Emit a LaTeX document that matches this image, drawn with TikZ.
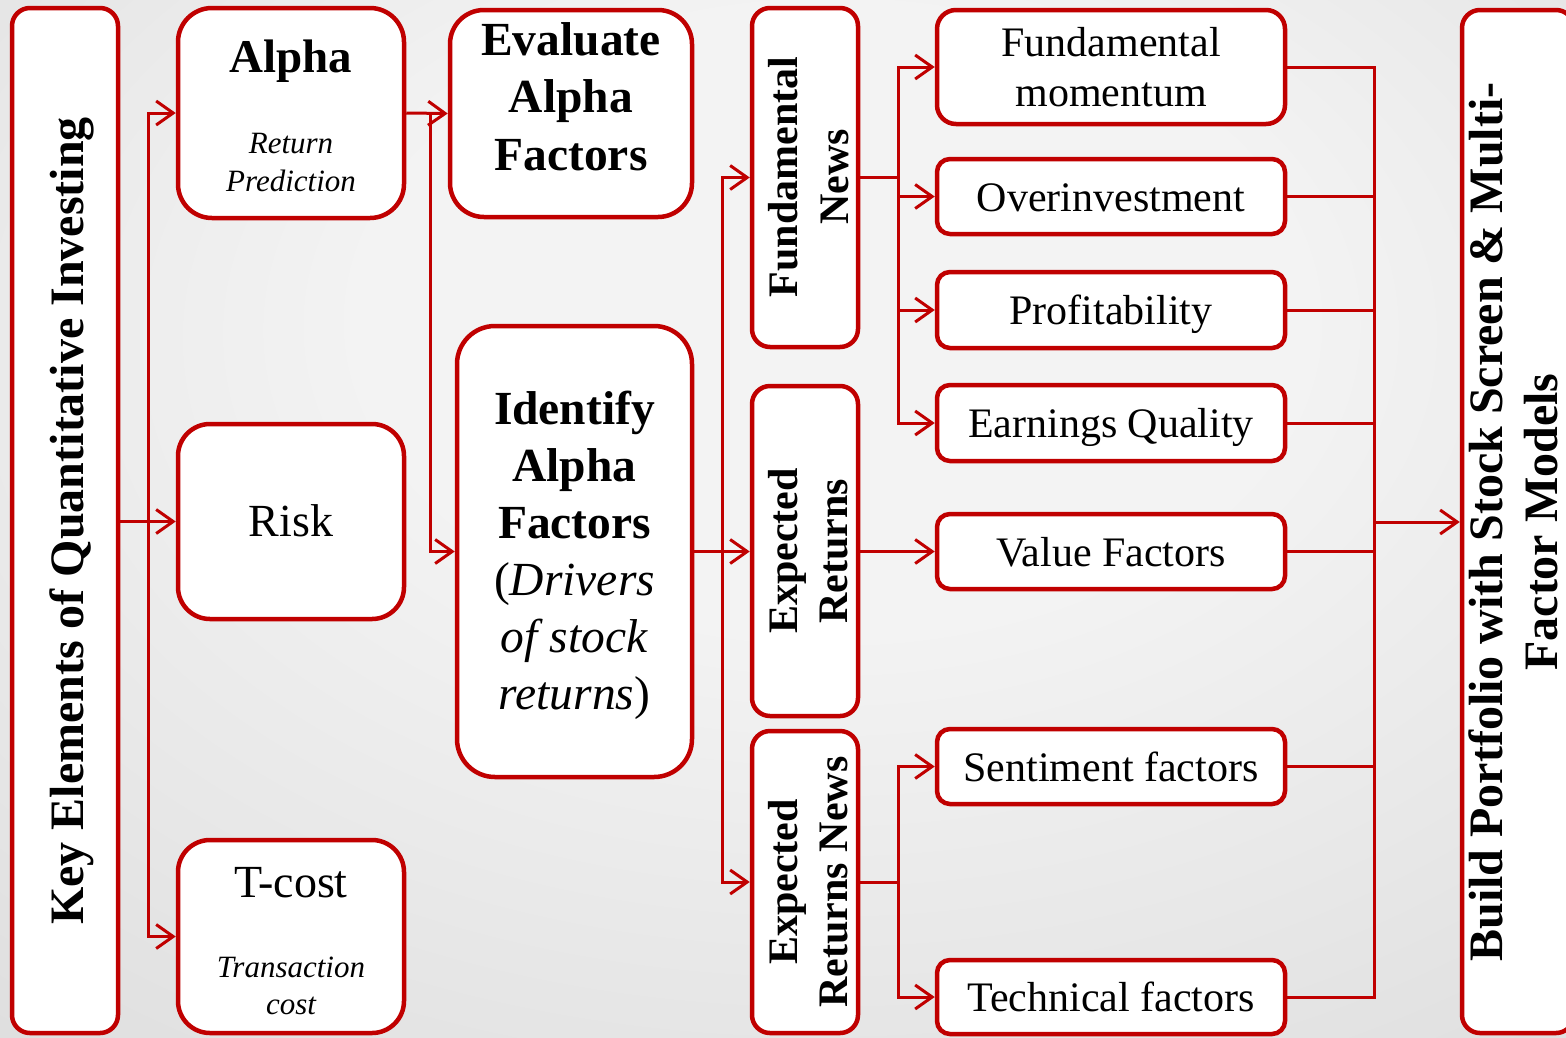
\documentclass[tikz,border=0pt]{standalone}
\usepackage{fontspec}
\setmainfont{Liberation Serif}
\usetikzlibrary{arrows.meta}

\definecolor{boxred}{HTML}{C00000}
\definecolor{bgA}{HTML}{F3F3F3}
\definecolor{bgB}{HTML}{DBDBDB}
\definecolor{bgC}{HTML}{C0C0C0}

% soft light-grey backdrop, brightest a little above the middle
\pgfdeclareradialshading{backdrop}{\pgfpoint{2bp}{12bp}}{%
  color(0bp)=(bgA); color(15bp)=(bgA); color(45bp)=(bgB); color(75bp)=(bgC)}

% font sizes used in the chart
\newcommand{\fsKey}{\fontsize{48}{57.6}\selectfont\bfseries}
\newcommand{\fsBuild}{\fontsize{48}{55}\selectfont\bfseries}
\newcommand{\fsTitle}{\fontsize{47.5}{57.5}\selectfont\bfseries}
\newcommand{\fsIdent}{\fontsize{47.5}{57}\selectfont}
\newcommand{\fsAlpha}{\fontsize{47}{56}\selectfont\bfseries}
\newcommand{\fsMain}{\fontsize{46}{55}\selectfont}
\newcommand{\fsSub}{\fontsize{31}{37.5}\selectfont\itshape}
\newcommand{\fsLeaf}{\fontsize{42}{50.4}\selectfont}
\newcommand{\fsBranch}{\fontsize{42}{50.4}\selectfont\bfseries}

\tikzset{
  box/.style={draw=boxred, line width=4.5pt, fill=white, rounded corners=#1,
              inner sep=0pt, align=center},
  box/.default=16pt,
  txt/.style={inner sep=0pt, align=center},
  oneline/.style={text height=29pt, text depth=0pt},
  conn/.style={draw=boxred, line width=3pt},
  arr/.style={-{Straight Barb[length=17pt,width=24pt]}}
}

\begin{document}
\begin{tikzpicture}[x=1pt, y=-1pt]
\useasboundingbox (0,0) rectangle (1566,1037);
\shade[shading=backdrop] (0,0) rectangle (1566,1037);

% ---- first column: overall theme
\node[box=18pt, minimum width=106pt, minimum height=1025pt] (keyel) at (65,520.5) {};
\node[txt, rotate=90, font=\fsKey] (keyelT) at (71.5,521) {Key Elements of Quantitative Investing};

% ---- second column: the three key elements
\node[box=34pt, minimum width=226pt, minimum height=210pt] (alpha) at (291,113) {};
\node[txt, anchor=base, font=\fsAlpha] (alphaT) at (291,72) {Alpha};
\node[txt, anchor=base, font=\fsSub] (alphaS1) at (291,153) {Return};
\node[txt, anchor=base, font=\fsSub] (alphaS2) at (291,191) {Prediction};

\node[box=32pt, minimum width=226pt, minimum height=195pt, font=\fsMain,
      text height=30.5pt, text depth=0pt] (risk) at (291,521.5) {Risk};

\node[box=32pt, minimum width=226pt, minimum height=193pt] (tcost) at (291,936.5) {};
\node[txt, anchor=base, font=\fsMain] (tcostT) at (291,897) {T-cost};
\node[txt, anchor=base, font=\fsSub] (tcostS1) at (291,977) {Transaction};
\node[txt, anchor=base, font=\fsSub] (tcostS2) at (291,1014) {cost};

% ---- third column: alpha factor work
\node[box=34pt, minimum width=242pt, minimum height=207pt] (eval) at (571,113.5) {};
\node[txt, font=\fsTitle] (evalT) at (571,96.3) {Evaluate\\Alpha\\Factors};

\node[box=38pt, minimum width=235pt, minimum height=451pt] (ident) at (574.5,551.5) {};
\node[txt, font=\fsIdent] (identT) at (574.5,555.5)
  {\textbf{Identify}\\\textbf{Alpha}\\\textbf{Factors}\\(\textit{Drivers}\\\textit{of stock}\\\textit{returns})};

% ---- fourth column: sources of alpha
\node[box=18pt, minimum width=106pt, minimum height=339pt] (fundnews) at (805,177.5) {};
\node[txt, rotate=90, font=\fsBranch] (fundnewsT) at (808.5,177) {Fundamental\\News};

\node[box=18pt, minimum width=106pt, minimum height=330pt] (expret) at (805,551) {};
\node[txt, rotate=90, font=\fsBranch] (expretT) at (808,551) {Expected\\Returns};

\node[box=18pt, minimum width=106pt, minimum height=302pt] (ernews) at (805,882) {};
\node[txt, rotate=90, font=\fsBranch] (ernewsT) at (808,882) {Expected\\Returns News};

% ---- fifth column: factor families
\node[box=19pt, minimum width=348pt, minimum height=114pt, font=\fsLeaf] (fm) at (1111,67) {Fundamental\\momentum};
\node[box=13pt, minimum width=348pt, minimum height=75pt, font=\fsLeaf, oneline] (over) at (1111,196.5) {Overinvestment};
\node[box=13pt, minimum width=348pt, minimum height=76pt, font=\fsLeaf, oneline] (prof) at (1111,310) {Profitability};
\node[box=13pt, minimum width=348pt, minimum height=76pt, font=\fsLeaf, oneline] (eq) at (1111,423) {Earnings Quality};
\node[box=13pt, minimum width=348pt, minimum height=75pt, font=\fsLeaf, oneline] (value) at (1111,551.5) {Value Factors};
\node[box=13pt, minimum width=348pt, minimum height=75pt, font=\fsLeaf, oneline] (sent) at (1111,766.5) {Sentiment factors};
\node[box=13pt, minimum width=348pt, minimum height=74pt, font=\fsLeaf, oneline] (tech) at (1111,997) {Technical factors};

% ---- last column: portfolio construction
\node[box=18pt, minimum width=112pt, minimum height=1023pt] (build) at (1518,521.5) {};
\node[txt, rotate=90, font=\fsBuild] (buildT) at (1513,522) {Build Portfolio with Stock Screen \& Multi-\\Factor Models};

% ---- connectors
\coordinate (kej) at (148,521.5);
\draw[conn, arr] (keyel.east |- risk.west) -- (risk.west);
\draw[conn, arr] (kej) |- (alpha.west);
\draw[conn, arr] (kej) |- (tcost.west);

\coordinate (alj) at (430,113);
\draw[conn, arr] (alpha.east) -- (eval.west);
\draw[conn, arr] (alj) |- (ident.west);

\coordinate (idj) at (722,551.5);
\draw[conn, arr] (ident.east) -- (expret.west |- ident.east);
\draw[conn, arr] (idj) |- (fundnews.west);
\draw[conn, arr] (idj) |- (ernews.west);

\coordinate (fnj) at (898,177.5);
\draw[conn] (fundnews.east) -- (fnj);
\draw[conn, arr] (fnj) |- (fm.west);
\draw[conn, arr] (fnj) |- (over.west);
\draw[conn, arr] (fnj) |- (prof.west);
\draw[conn, arr] (fnj) |- (eq.west);

\draw[conn, arr] (expret.east |- value.west) -- (value.west);

\coordinate (erj) at (898,882);
\draw[conn] (ernews.east) -- (erj);
\draw[conn, arr] (erj) |- (sent.west);
\draw[conn, arr] (erj) |- (tech.west);

\coordinate (col) at (1374,522);
\draw[conn] (fm.east) -| (col);
\draw[conn] (tech.east) -| (col);
\draw[conn] (over.east) -- (over.east -| col);
\draw[conn] (prof.east) -- (prof.east -| col);
\draw[conn] (eq.east) -- (eq.east -| col);
\draw[conn] (value.east) -- (value.east -| col);
\draw[conn] (sent.east) -- (sent.east -| col);
\draw[conn, arr] (col) -- (build.west |- col);
\end{tikzpicture}
\end{document}
